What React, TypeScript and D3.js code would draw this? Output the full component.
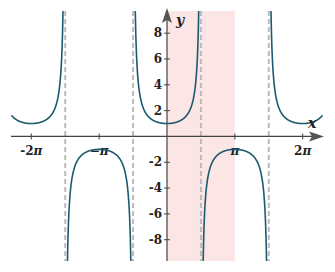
import React from "react";
import * as d3 from "d3";

const W = 335, H = 272;
const xDomain = [-7.2, 7.2];
const yDomain = [-9.65, 9.72];
const xTickValues = [-2 * Math.PI, -Math.PI, Math.PI, 2 * Math.PI];
const xTickPrefixes = ["-2", "−", "", "2"];
const yTickValues = [-8, -6, -4, -2, 2, 4, 6, 8];
const yTickLabels = ["-8", "-6", "-4", "-2", "2", "4", "6", "8"];
const asymptotes = [-1.5 * Math.PI, -0.5 * Math.PI, 0.5 * Math.PI, 1.5 * Math.PI];
const shadeRange = [0, Math.PI];
const branchBounds = [-7.2, -1.5 * Math.PI, -0.5 * Math.PI, 0.5 * Math.PI, 1.5 * Math.PI, 7.2];

export default function App() {
  const x = d3.scaleLinear().domain(xDomain).range([11.5, 322.5]);
  const y = d3.scaleLinear().domain(yDomain).range([261, 11]);
  const x0 = x(0), y0 = y(0);
  const top = y(yDomain[1]), bottom = y(yDomain[0]);

  const line = d3.line<[number, number]>().x(d => x(d[0])).y(d => y(d[1]));
  const paths: string[] = [];
  for (let i = 0; i < branchBounds.length - 1; i++) {
    const a = branchBounds[i], b = branchBounds[i + 1];
    const pts: [number, number][] = [];
    const n = 800;
    for (let k = 0; k <= n; k++) {
      const t = a + ((b - a) * k) / n;
      const v = 1 / Math.cos(t);
      if (Math.abs(v) <= 10.5 && isFinite(v)) {
        pts.push([t, Math.max(yDomain[0], Math.min(yDomain[1], v))]);
      }
    }
    paths.push(line(pts) || "");
  }

  const font = "'DejaVu Serif', serif";
  const axisColor = "#444";
  return (
    <svg width={W} height={H} style={{ position: "absolute", left: 0, top: 0 }}>
      <defs>
        <clipPath id="plot">
          <rect x={0} y={top} width={W} height={bottom - top} />
        </clipPath>
      </defs>
      <rect x={x(shadeRange[0])} y={top} width={x(shadeRange[1]) - x(shadeRange[0])} height={bottom - top} fill="#fbe5e5" />
      {asymptotes.map((a, i) => (
        <line key={i} x1={x(a)} x2={x(a)} y1={top} y2={bottom} stroke="#bbb" strokeWidth={2} strokeDasharray="5,3" />
      ))}
      {/* axes */}
      <line x1={11} x2={316} y1={y0} y2={y0} stroke={axisColor} strokeWidth={1.2} />
      <line x1={x0} x2={x0} y1={18} y2={bottom} stroke={axisColor} strokeWidth={1.2} />
      <path d={`M${324},${y0} L${309},${y0 - 5} L${312},${y0} L${309},${y0 + 5} Z`} fill="#555" />
      <path d={`M${x0},${8} L${x0 - 5},${23} L${x0},${20} L${x0 + 5},${23} Z`} fill="#555" />
      {xTickValues.map((v, i) => (
        <g key={i}>
          <line x1={x(v)} x2={x(v)} y1={y0 - 3} y2={y0 + 3} stroke={axisColor} strokeWidth={1} />
          <text x={x(v)} y={y0 + 19} textAnchor="middle" fontFamily={font} fontWeight="bold" fontSize={12} fill="#222">
            {xTickPrefixes[i]}<tspan fontStyle="italic">π</tspan>
          </text>
        </g>
      ))}
      {yTickValues.map((v, i) => (
        <g key={i}>
          <line x1={x0 - 3} x2={x0 + 3} y1={y(v)} y2={y(v)} stroke={axisColor} strokeWidth={1} />
          <text x={x0 - 5} y={y(v) + 4} textAnchor="end" fontFamily={font} fontWeight="bold" fontSize={12} fill="#222">{yTickLabels[i]}</text>
        </g>
      ))}
      <g clipPath="url(#plot)">
        {paths.map((d, i) => (
          <path key={i} d={d} fill="none" stroke="#1d5a70" strokeWidth={1.6} />
        ))}
      </g>
      <text x={x0 + 9} y={25} fontFamily={font} fontStyle="italic" fontWeight="bold" fontSize={14} fill="#222">y</text>
      <text x={308} y={128} fontFamily={font} fontStyle="italic" fontWeight="bold" fontSize={14} fill="#222">x</text>
    </svg>
  );
}
